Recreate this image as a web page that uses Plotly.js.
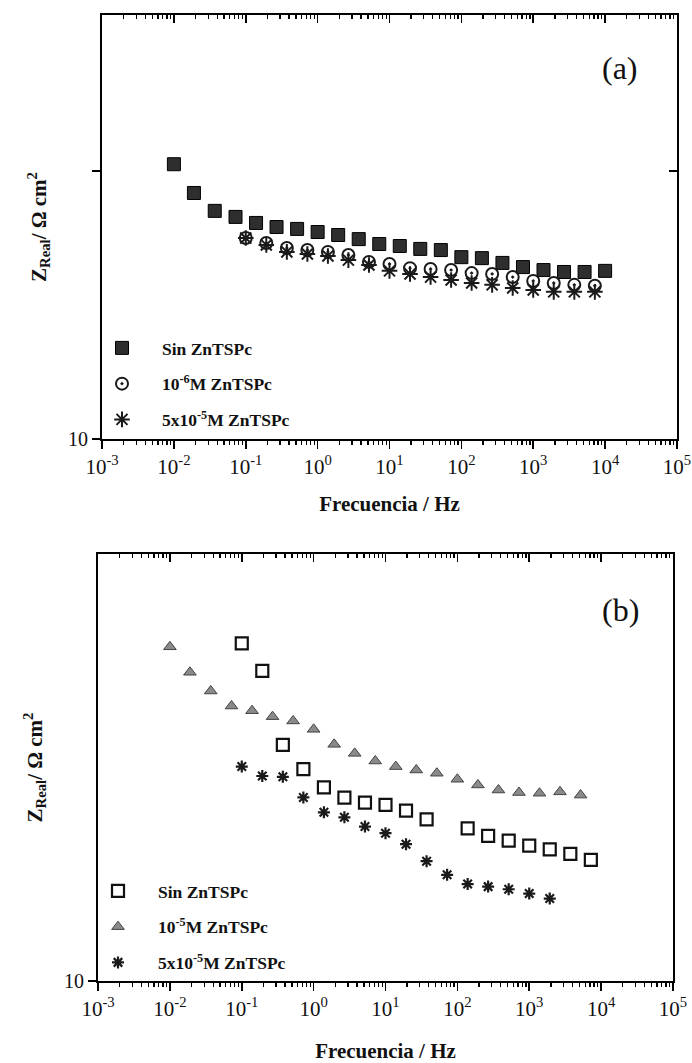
<!DOCTYPE html>
<html>
<head>
<meta charset="utf-8">
<script src="https://cdn.plot.ly/plotly-3.0.1.min.js"></script>
<style>html,body{margin:0;padding:0;background:#fff;}#chart{width:692px;height:1063px;}</style>
</head>
<body>
<div id="chart"></div>
<script>
// ---------- Panel (a) ----------
var freqA_sin = [0.01, 0.019, 0.037, 0.072, 0.139, 0.268, 0.518, 1, 1.93, 3.73, 7.2, 13.9, 26.8, 51.8, 100, 193, 373, 720, 1390, 2680, 5180, 10000];
var zA_sin = [106, 82.8, 71.0, 67.4, 64.0, 61.8, 60.8, 59.2, 57.7, 55.7, 53.4, 52.5, 51.2, 50.7, 47.7, 47.3, 45.4, 43.8, 42.7, 42.0, 42.0, 42.4];
var freqA_e6 = [0.1, 0.193, 0.373, 0.72, 1.39, 2.68, 5.18, 10, 19.3, 37.3, 72, 139, 268, 518, 1000, 1930, 3730, 7200];
var zA_e6 = [56.2, 53.9, 51.6, 50.7, 49.9, 48.6, 45.8, 45.0, 43.4, 43.1, 42.7, 41.6, 41.3, 40.2, 38.9, 38.2, 37.6, 37.3];
var freqA_5e5 = [0.1, 0.193, 0.373, 0.72, 1.39, 2.68, 5.18, 10, 19.3, 37.3, 72, 139, 268, 518, 1000, 1930, 3730, 7200];
var zA_5e5 = [56.2, 53.0, 49.9, 49.0, 48.2, 46.5, 44.6, 42.4, 41.3, 40.2, 39.2, 38.2, 37.6, 36.6, 36.0, 35.4, 35.4, 35.4];

// ---------- Panel (b) ----------
var freqB_sin = [0.1, 0.193, 0.373, 0.72, 1.39, 2.68, 5.18, 10, 19.3, 37.3, 139, 268, 518, 1000, 1930, 3730, 7200];
var zB_sin = [182.0, 143.6, 76.0, 61.7, 52.8, 48.3, 46.3, 45.4, 43.2, 40.1, 37.1, 34.8, 33.4, 32.0, 31.0, 29.8, 28.3];
var freqB_e5 = [0.01, 0.019, 0.037, 0.072, 0.139, 0.268, 0.518, 1, 1.93, 3.73, 7.2, 13.9, 26.8, 51.8, 100, 193, 373, 720, 1390, 2680, 5180];
var zB_e5 = [176.6, 141.9, 120.8, 106.2, 102.0, 96.9, 93.4, 86.9, 76.4, 70.7, 66.2, 63.1, 61.3, 59.6, 56.6, 53.9, 51.6, 50.5, 50.2, 50.8, 49.4];
var freqB_5e5 = [0.1, 0.193, 0.373, 0.72, 1.39, 2.68, 5.18, 10, 19.3, 37.3, 72, 139, 268, 518, 1000, 1930];
var zB_5e5 = [63.1, 58.2, 57.8, 48.4, 42.6, 40.8, 37.7, 35.6, 32.4, 28.0, 24.9, 23.0, 22.5, 22.0, 21.2, 20.3];

var namesA = ['Sin ZnTSPc', '10<sup>-6</sup>M ZnTSPc', '5x10<sup>-5</sup>M ZnTSPc'];
var namesB = ['Sin ZnTSPc', '10<sup>-5</sup>M ZnTSPc', '5x10<sup>-5</sup>M ZnTSPc'];
var xTickVals = [0.001, 0.01, 0.1, 1, 10, 100, 1000, 10000, 100000];
var xTickText = ['10<sup>-3</sup>', '10<sup>-2</sup>', '10<sup>-1</sup>', '10<sup>0</sup>', '10<sup>1</sup>', '10<sup>2</sup>', '10<sup>3</sup>', '10<sup>4</sup>', '10<sup>5</sup>'];
var xTitle = 'Frecuencia / Hz';
var yTitle = 'Z<sub>Real</sub>/ Ω cm<sup>2</sup>';
var panelLabels = ['(a)', '(b)'];

var SERIF = '"Liberation Serif", "DejaVu Serif", serif';
var W = 692, H = 1063;

var traces = [
  {x: freqA_sin, y: zA_sin, name: namesA[0], type: 'scatter', mode: 'markers', xaxis: 'x', yaxis: 'y', legend: 'legend', legendgroup: 'a1',
   marker: {symbol: 'square', size: 13, color: '#2e2e2e', line: {color: '#000', width: 1}}},
  {x: freqA_e6, y: zA_e6, name: namesA[1], type: 'scatter', mode: 'markers', xaxis: 'x', yaxis: 'y', legend: 'legend', legendgroup: 'a2',
   marker: {symbol: 'circle-open-dot', size: 12, color: '#1a1a1a', line: {color: '#1a1a1a', width: 2}}},
  {x: freqA_5e5, y: zA_5e5, name: namesA[2], type: 'scatter', mode: 'markers', xaxis: 'x', yaxis: 'y', legend: 'legend', legendgroup: 'a3',
   marker: {symbol: 'asterisk-open', size: 13, color: '#1a1a1a', line: {color: '#1a1a1a', width: 2}}},
  {x: freqB_sin, y: zB_sin, name: namesB[0], type: 'scatter', mode: 'markers', xaxis: 'x2', yaxis: 'y2', legend: 'legend2', legendgroup: 'b1',
   marker: {symbol: 'square-open', size: 12, color: '#111', line: {color: '#111', width: 2.2}}},
  {x: freqB_e5, y: zB_e5, name: namesB[1], type: 'scatter', mode: 'markers', xaxis: 'x2', yaxis: 'y2', legend: 'legend2', legendgroup: 'b2',
   marker: {symbol: 'triangle-up', size: 11, color: '#8a8a8a', line: {color: '#444', width: 1}}},
  {x: freqB_5e5, y: zB_5e5, name: namesB[2], type: 'scatter', mode: 'markers', xaxis: 'x2', yaxis: 'y2', legend: 'legend2', legendgroup: 'b3',
   marker: {symbol: 'asterisk-open', size: 10, color: '#1a1a1a', line: {color: '#1a1a1a', width: 2.2}}},
  // empty traces so the mirrored (top/right) axes exist
  {x: [], y: [], xaxis: 'x3', yaxis: 'y3', type: 'scatter', mode: 'markers', showlegend: false, hoverinfo: 'skip'},
  {x: [], y: [], xaxis: 'x4', yaxis: 'y4', type: 'scatter', mode: 'markers', showlegend: false, hoverinfo: 'skip'}
];

var XR = [-3.0005, 5.0005];

function xBottom(domain, anchor, standoff) {
  return {
    type: 'log', range: XR, domain: domain, anchor: anchor,
    showline: true, linecolor: '#000', linewidth: 2, mirror: false,
    ticks: 'outside', ticklen: 8, tickwidth: 1.5, tickcolor: '#000',
    tickmode: 'array', tickvals: xTickVals, ticktext: xTickText,
    tickfont: {family: SERIF, size: 21, color: '#111'},
    minor: {ticks: 'outside', ticklen: 4, tickwidth: 1.3, tickcolor: '#000', dtick: 'D1', showgrid: false},
    showgrid: false, zeroline: false, fixedrange: true,
    title: {text: xTitle, font: {family: SERIF, size: 21, color: '#111', weight: 'bold'}, standoff: standoff}
  };
}
function xTop(overlay, anchor) {
  return {
    type: 'log', range: XR, overlaying: overlay, side: 'top', anchor: anchor,
    showline: true, linecolor: '#000', linewidth: 2,
    ticks: 'inside', ticklen: 8, tickwidth: 1.5, tickcolor: '#000',
    tickmode: 'array', tickvals: xTickVals,
    showticklabels: false,
    minor: {ticks: 'inside', ticklen: 4, tickwidth: 1.3, tickcolor: '#000', dtick: 'D1', showgrid: false},
    showgrid: false, zeroline: false, fixedrange: true
  };
}
function yLeft(domain, anchor, range, tv, tt) {
  return {
    type: 'log', range: range, domain: domain, anchor: anchor,
    showline: true, linecolor: '#000', linewidth: 2, mirror: false,
    ticks: 'outside', ticklen: 8, tickwidth: 1.5, tickcolor: '#000',
    tickmode: 'array', tickvals: tv, ticktext: tt,
    tickfont: {family: SERIF, size: 20, color: '#111'},
    showgrid: false, zeroline: false, fixedrange: true,
    title: {text: yTitle, font: {family: SERIF, size: 21, color: '#111', weight: 'bold'}, standoff: 16}
  };
}
function yRight(overlay, anchor, range, tv) {
  return {
    type: 'log', range: range, overlaying: overlay, side: 'right', anchor: anchor,
    showline: true, linecolor: '#000', linewidth: 2,
    ticks: tv.length ? 'inside' : '', ticklen: 8, tickwidth: 1.5, tickcolor: '#000',
    tickmode: 'array', tickvals: tv, showticklabels: false,
    showgrid: false, zeroline: false, fixedrange: true
  };
}

var xdA = [102 / W, 677 / W], ydA = [1 - 439 / H, 1 - 15 / H];
var xdB = [98 / W, 673 / W], ydB = [1 - 981 / H, 1 - 554 / H];
var yrA = [1, 1 + 424 / 268], yrB = [1, 1 + 427 / 268];

var legendCommon = {
  bgcolor: 'rgba(0,0,0,0)', borderwidth: 0,
  font: {family: SERIF, size: 17.5, color: '#111', weight: 'bold'},
  traceorder: 'grouped', tracegroupgap: 10, xanchor: 'left', yanchor: 'top',
  itemwidth: 70, itemclick: false, itemdoubleclick: false
};

var layout = {
  width: W, height: H,
  margin: {l: 0, r: 0, t: 0, b: 0},
  paper_bgcolor: '#fff', plot_bgcolor: '#fff',
  showlegend: true,
  xaxis: xBottom(xdA, 'y', 18),
  yaxis: yLeft(ydA, 'x', yrA, [10, 100], ['10', '']),
  xaxis3: xTop('x', 'y'),
  yaxis3: yRight('y', 'x', yrA, [100]),
  xaxis2: xBottom(xdB, 'y2', 26),
  yaxis2: yLeft(ydB, 'x2', yrB, [10], ['10']),
  xaxis4: xTop('x2', 'y2'),
  yaxis4: yRight('y2', 'x2', yrB, []),
  legend: Object.assign({}, legendCommon, {x: 82 / W, y: 1 - 330 / H}),
  legend2: Object.assign({}, legendCommon, {x: 78 / W, y: 1 - 873 / H}),
  annotations: [
    {text: panelLabels[0], xref: 'paper', yref: 'paper', x: 620 / W, y: 1 - 68 / H, xanchor: 'center', yanchor: 'middle', showarrow: false,
     font: {family: SERIF, size: 32, color: '#111'}},
    {text: panelLabels[1], xref: 'paper', yref: 'paper', x: 620 / W, y: 1 - 610 / H, xanchor: 'center', yanchor: 'middle', showarrow: false,
     font: {family: SERIF, size: 32, color: '#111'}}
  ]
};

Plotly.newPlot('chart', traces, layout, {staticPlot: true, displayModeBar: false});
</script>
</body>
</html>
